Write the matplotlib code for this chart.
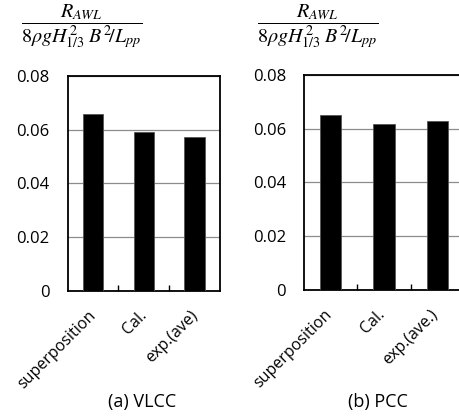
import numpy as np
import matplotlib
matplotlib.use('Agg')
import matplotlib.pyplot as plt
import matplotlib.transforms as mtransforms

plt.rcParams['font.family'] = ['Open Sans', 'DejaVu Sans']
plt.rcParams['mathtext.fontset'] = 'stix'

# values
vlcc_labels = ['superposition', 'Cal.', 'exp.(ave)']
vlcc_values = [0.0658, 0.0590, 0.0572]
pcc_labels = ['superposition', 'Cal.', 'exp.(ave.)']
pcc_values = [0.0653, 0.0616, 0.0629]
yticks = [0, 0.02, 0.04, 0.06, 0.08]
ytick_labels = ['0', '0.02', '0.04', '0.06', '0.08']

ylabel = r'$\dfrac{R_{AWL}}{8\rho g H_{1/3}^{\,2}\;B^{2}\!/L_{pp}}$'


def add_panel(fig, rect, labels, values, caption, cap_x, shift_px):
    ax = fig.add_axes(rect)
    x = np.arange(len(values))
    ax.bar(x, values, width=0.4, color='black', edgecolor='#555555',
           linewidth=0.6, zorder=3)
    ax.set_xlim(-0.5, len(values) - 0.5)
    ax.set_ylim(0, 0.08)
    ax.set_yticks(yticks)
    ax.set_yticklabels(ytick_labels, fontsize=12)
    ax.tick_params(axis='y', length=0, pad=13)
    ax.yaxis.grid(True, color='#8c8c8c', linewidth=0.9, zorder=0)
    ax.set_xticks(x)
    ax.set_xticklabels(labels, rotation=45, ha='right',
                       rotation_mode='anchor', fontsize=11.5)
    ax.tick_params(axis='x', which='major', length=0, pad=12)
    # nudge the rotated labels a little to the left
    offset = mtransforms.ScaledTranslation(shift_px / 100, 0,
                                           fig.dpi_scale_trans)
    for lab in ax.get_xticklabels():
        lab.set_transform(lab.get_transform() + offset)
    ax.set_xticks(x[:-1] + 0.5, minor=True)
    ax.tick_params(axis='x', which='minor', direction='in', length=4,
                   width=1.0, color='black')
    for s in ax.spines.values():
        s.set_linewidth(1.3)
        s.set_color('black')
    fig.text(cap_x, 0.034, caption, ha='center', va='center', fontsize=13)
    return ax


def main():
    fig = plt.figure(figsize=(4.59, 4.16), dpi=100)
    add_panel(fig, [0.1475, 0.3005, 0.3318, 0.5175], vlcc_labels,
              vlcc_values, '(a) VLCC', 0.310, -5)
    add_panel(fig, [0.6623, 0.3029, 0.3486, 0.5168], pcc_labels,
              pcc_values, '(b) PCC', 0.824, -7)
    fig.text(0.178, 0.935, ylabel, ha='center', va='center', fontsize=14.5)
    fig.text(0.693, 0.935, ylabel, ha='center', va='center', fontsize=14.5)
    fig.savefig('out.png', dpi=100)


if __name__ == '__main__':
    main()
